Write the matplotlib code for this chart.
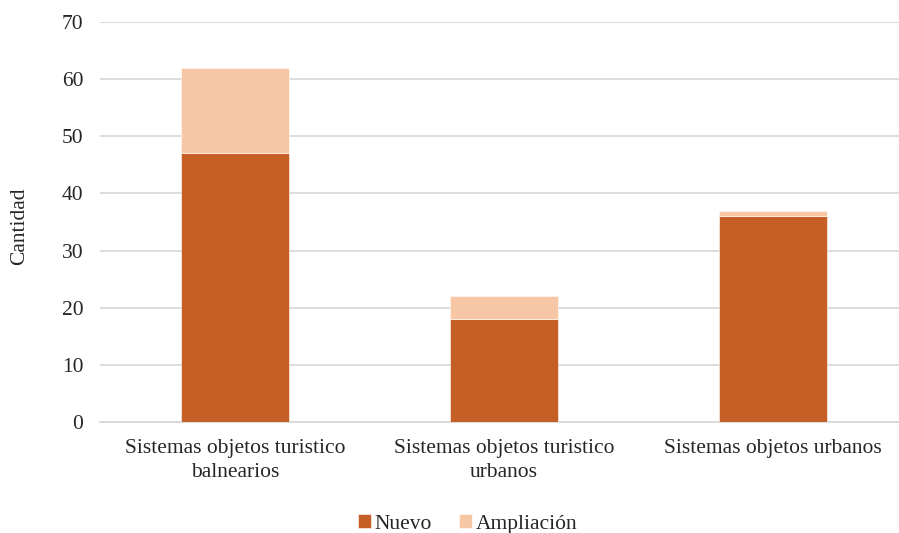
import matplotlib.pyplot as plt
import numpy as np

plt.rcParams['font.family'] = ['Liberation Serif', 'DejaVu Serif']

categories = ['Sistemas objetos turistico\nbalnearios',
              'Sistemas objetos turistico\nurbanos',
              'Sistemas objetos urbanos']
nuevo = [47, 18, 36]
ampliacion = [15, 4, 1]

fig = plt.figure(figsize=(8.99, 5.33), dpi=100)
ax = fig.add_axes([100 / 899, 111 / 533, 799 / 899, 400 / 533])

x = np.arange(len(categories))
w = 0.40
ax.bar(x, nuevo, w, color='#C55F26', edgecolor='white', linewidth=0.4, label='Nuevo', zorder=3)
ax.bar(x, ampliacion, w, bottom=nuevo, color='#F7C6A5', edgecolor='white', linewidth=0.4,
       label='Ampliación', zorder=3)

ax.set_xlim(-0.502, 2.468)
ax.set_ylim(0, 70)
ax.set_yticks(range(0, 71, 10))
ax.yaxis.grid(True, color='#D9D9D9', linewidth=1.3, zorder=0)
ax.set_xticks(x)
ax.set_xticklabels(categories, fontsize=15.5, color='#262626', linespacing=1.35)
ax.tick_params(axis='y', labelsize=15.5, colors='#262626', length=0, pad=12)
ax.tick_params(axis='x', length=0, pad=12)
for s in ['top', 'right', 'left']:
    ax.spines[s].set_visible(False)
ax.spines['bottom'].set_color('#D9D9D9')
ax.spines['bottom'].set_linewidth(1.3)

ax.set_ylabel('Cantidad', fontsize=15.5, color='#262626')
ax.yaxis.set_label_coords(-0.089, 0.49)

fig.legend(loc='lower center', bbox_to_anchor=(0.52, -0.038), ncol=2, frameon=False,
           fontsize=15.5, handlelength=0.6, handleheight=0.6, handletextpad=0.15,
           columnspacing=1.3, labelcolor='#262626')

fig.savefig('out.png', dpi=100)
